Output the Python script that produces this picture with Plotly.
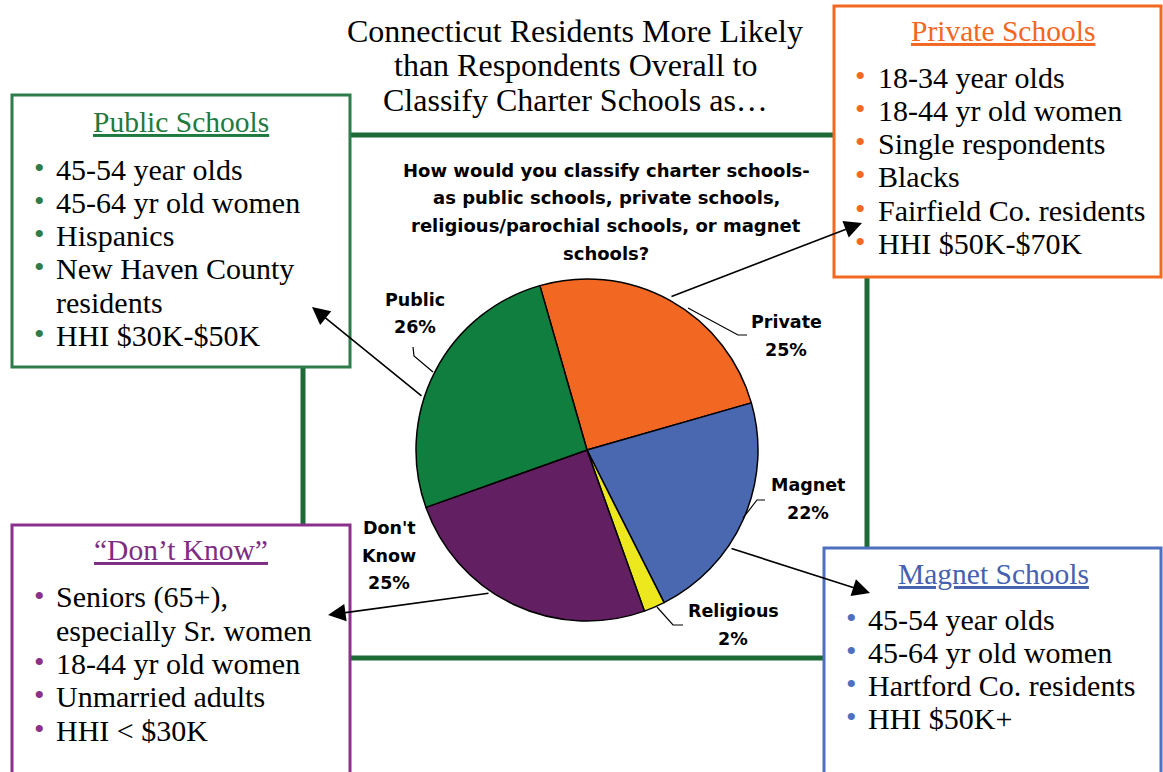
import plotly.graph_objects as go

W, H = 1163, 772

# ---------------- data ----------------
categories = ["Private", "Magnet", "Religious", "Don't Know", "Public"]
percentages = [25, 22, 2, 25, 26]
slice_colors = ["#F26722", "#4A68B0", "#EDE81E", "#621F62", "#0F7E3E"]

title_lines = ["Connecticut Residents More Likely",
               "than Respondents Overall to",
               "Classify Charter Schools as…"]
question_lines = ["How would you classify charter schools-",
                  "as public schools, private schools,",
                  "religious/parochial schools, or magnet",
                  "schools?"]

public_title = "Public Schools"
public_items = [["45-54 year olds"], ["45-64 yr old women"], ["Hispanics"],
                ["New Haven County", "residents"], ["HHI $30K-$50K"]]
private_title = "Private Schools"
private_items = [["18-34 year olds"], ["18-44 yr old women"], ["Single respondents"],
                 ["Blacks"], ["Fairfield Co. residents"], ["HHI $50K-$70K"]]
dontknow_title = "“Don’t Know”"
dontknow_items = [["Seniors (65+),", "especially Sr. women"], ["18-44 yr old women"],
                  ["Unmarried adults"], ["HHI &lt; $30K"]]
magnet_title = "Magnet Schools"
magnet_items = [["45-54 year olds"], ["45-64 yr old women"],
                ["Hartford Co. residents"], ["HHI $50K+"]]


def X(px):
    return px / W


def Y(py):
    return 1 - py / H


SERIF = "Liberation Serif"
SANS = "DejaVu Sans"

fig = go.Figure()

# pie: centre (587,450) px, radius 171 px
cx, cy, r = 587, 450, 171
fig.add_trace(go.Pie(
    labels=categories, values=percentages, sort=False, direction="clockwise",
    rotation=-16, textinfo="none", hoverinfo="label+percent", showlegend=False,
    marker=dict(colors=slice_colors, line=dict(color="black", width=1.5)),
    domain=dict(x=[X(cx - r), X(cx + r)], y=[Y(cy + r), Y(cy - r)]),
))

shapes = []
annotations = []

# green frame
shapes.append(dict(type="rect", xref="paper", yref="paper",
                   x0=X(303), x1=X(867), y0=Y(135), y1=Y(658),
                   line=dict(color="#1D6A36", width=5), fillcolor="rgba(0,0,0,0)"))

boxes = [
    # title, items, colour, title colour, box (x0,y0,x1,y1), title pos, bullet x, text x, first row y
    (public_title, public_items, "#2E7B4C", "#1E7A3E", (12, 95, 350, 367), (181, 122), 39, 54, 169),
    (private_title, private_items, "#F26A21", "#F26722", (834, 6, 1161, 277), (1003, 31), 860, 876, 77),
    (dontknow_title, dontknow_items, "#8A318C", "#7E2E82", (12, 525, 350, 790), (181, 550), 39, 54, 597),
    (magnet_title, magnet_items, "#4F6FBF", "#4561B0", (824, 548, 1161, 790), (993, 574), 851, 866, 619),
]
ROW = 33.3
for title, items, col, tcol, (bx0, by0, bx1, by1), (tx, ty), bx, txx, y0 in boxes:
    shapes.append(dict(type="rect", xref="paper", yref="paper",
                       x0=X(bx0), x1=X(bx1), y0=Y(by0), y1=Y(by1),
                       line=dict(color=col, width=3), fillcolor="white"))
    annotations.append(dict(xref="paper", yref="paper", x=X(tx), y=Y(ty),
                            text=f'<span style="text-decoration:underline">{title}</span>',
                            showarrow=False, xanchor="center", yanchor="middle",
                            font=dict(family=SERIF, size=29.5, color=tcol)))
    row = 0
    for item in items:
        for j, line in enumerate(item):
            yy = y0 + row * ROW
            if j == 0:
                annotations.append(dict(xref="paper", yref="paper", x=X(bx), y=Y(yy - 2),
                                        text="•", showarrow=False, xanchor="center",
                                        yanchor="middle",
                                        font=dict(family=SERIF, size=30, color=col)))
            annotations.append(dict(xref="paper", yref="paper", x=X(txx), y=Y(yy),
                                    text=line, showarrow=False, xanchor="left",
                                    yanchor="middle",
                                    font=dict(family=SERIF, size=30, color="black")))
            row += 1

# main title
for i, line in enumerate(title_lines):
    annotations.append(dict(xref="paper", yref="paper", x=X(575), y=Y(31 + i * 34.5),
                            text=line, showarrow=False, xanchor="center", yanchor="middle",
                            font=dict(family=SERIF, size=32, color="black")))

# question
for i, line in enumerate(question_lines):
    annotations.append(dict(xref="paper", yref="paper", x=X(606), y=Y(170 + i * 27.7),
                            text=f"<b>{line}</b>", showarrow=False, xanchor="center",
                            yanchor="middle",
                            font=dict(family=SANS, size=18, color="black")))

# pie labels
label_pos = {"Private": (786, 322), "Magnet": (808, 485), "Religious": (733, 611),
             "Don't Know": (389, 528), "Public": (415, 300)}
for cat, val in zip(categories, percentages):
    lx, ly = label_pos[cat]
    lines = cat.split(" ") + [f"{val}%"]
    for i, line in enumerate(lines):
        annotations.append(dict(xref="paper", yref="paper", x=X(lx), y=Y(ly + i * 27.5),
                                text=f"<b>{line}</b>", showarrow=False, xanchor="center",
                                yanchor="middle",
                                font=dict(family=SANS, size=17.5, color="black")))

# leader lines
leaders = [
    [(413, 347), (414, 356), (433, 372)],
    [(688, 308), (738, 335), (747, 335)],
    [(765, 500), (757, 500), (743, 518)],
    [(657, 607), (673, 625), (683, 625)],
]
for pts in leaders:
    path = "M " + " L ".join(f"{X(px)},{Y(py)}" for px, py in pts)
    shapes.append(dict(type="path", xref="paper", yref="paper", path=path,
                       line=dict(color="black", width=1.2)))

# arrows (tail on pie -> head at box)
arrows = [((423, 397), (312, 307)), ((670, 297), (862, 223)),
          ((730, 548), (870, 593)), ((490, 593), (328, 615))]
for (tx_, ty_), (hx, hy) in arrows:
    annotations.append(dict(xref="paper", yref="paper", x=X(hx), y=Y(hy),
                            ax=tx_ - hx, ay=ty_ - hy, axref="pixel", ayref="pixel",
                            text="", showarrow=True, arrowhead=2, arrowsize=2.2,
                            arrowwidth=1.6, arrowcolor="black", standoff=0))

fig.update_layout(
    width=W, height=H, margin=dict(l=0, r=0, t=0, b=0),
    paper_bgcolor="white", plot_bgcolor="white",
    shapes=shapes, annotations=annotations, showlegend=False,
)

fig.write_html("out.html", config={"displayModeBar": False},
               post_script="document.body.style.margin='0';document.body.style.overflow='hidden';")
